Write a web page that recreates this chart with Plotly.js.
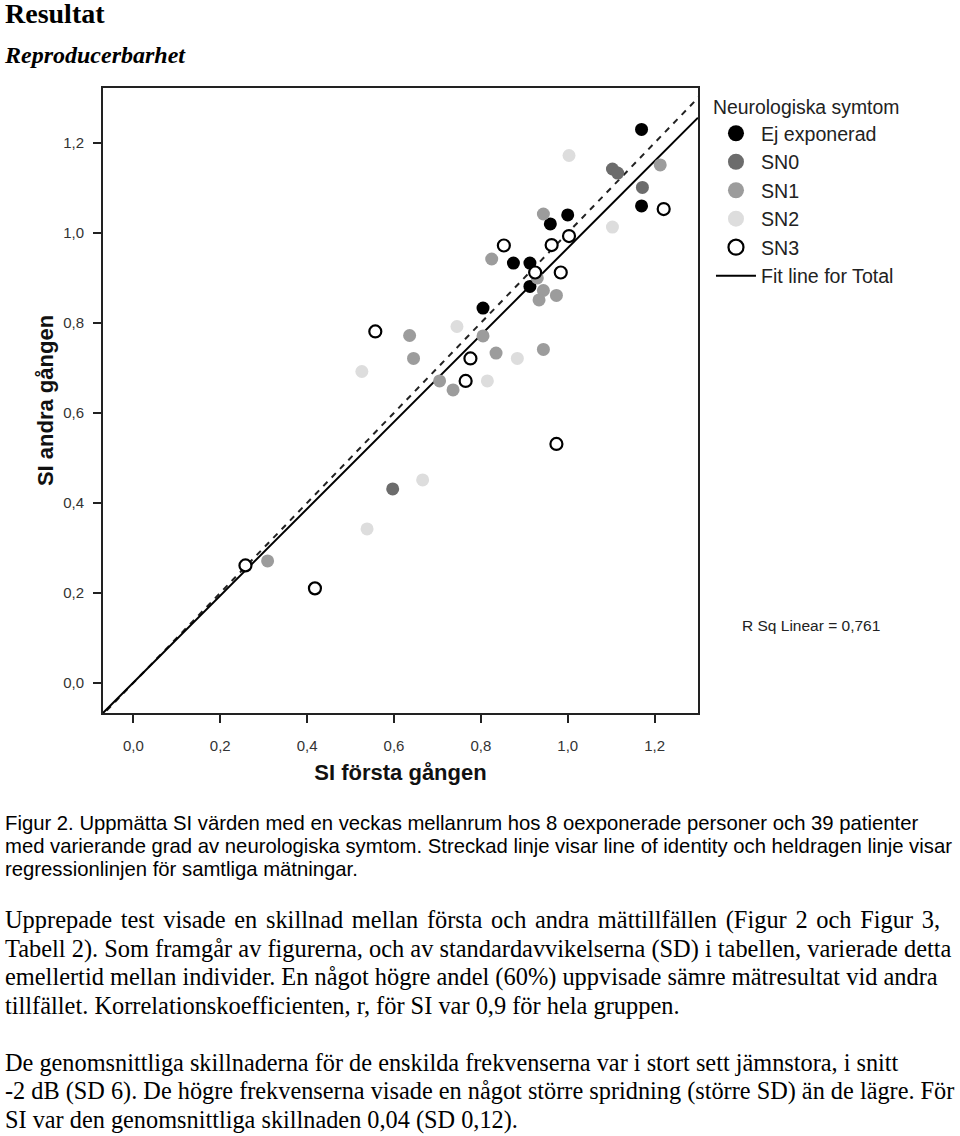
<!DOCTYPE html>
<html>
<head>
<meta charset="utf-8">
<script src="https://cdn.plot.ly/plotly-3.0.1.min.js"></script>
<style>
  body { margin: 0; background: #fff; width: 960px; height: 1136px; position: relative; overflow: hidden; }
  .t { position: absolute; left: 5px; white-space: nowrap; color: #000; }
  #h1 { top: -2px; font: bold 28px/32px "Liberation Serif", serif; }
  #h2 { top: 40px; font: bold italic 24px/30px "Liberation Serif", serif; }
  #cap { top: 812px; font: 20.3px/23px "Liberation Sans", Arial, sans-serif; }
  #p1 { top: 906px; font: 24.4px/28.7px "Liberation Serif", serif; }
  #p2 { top: 1049px; font: 24.3px/28.3px "Liberation Serif", serif; }
  .j { display: block; text-align: justify; text-align-last: justify; white-space: normal; }
  #chart { position: absolute; left: 0; top: 0; width: 960px; height: 800px; }
</style>
</head>
<body>
<div id="chart"></div>
<div class="t" id="h1">Resultat</div>
<div class="t" id="h2">Reproducerbarhet</div>
<div class="t" id="cap">Figur 2. Uppmätta SI värden med en veckas mellanrum hos 8 oexponerade personer och 39 patienter<br>med varierande grad av neurologiska symtom. Streckad linje visar line of identity och heldragen linje visar<br>regressionlinjen för samtliga mätningar.</div>
<div class="t" id="p1"><span class="j" style="width:935px">Upprepade test visade en skillnad mellan första och andra mättillfällen (Figur 2 och Figur 3,</span>Tabell 2). Som framgår av figurerna, och av standardavvikelserna (SD) i tabellen, varierade detta<br>emellertid mellan individer. En något högre andel (60%) uppvisade sämre mätresultat vid andra<br>tillfället. Korrelationskoefficienten, r, för SI var 0,9 för hela gruppen.</div>
<div class="t" id="p2">De genomsnittliga skillnaderna för de enskilda frekvenserna var i stort sett jämnstora, i snitt<br>-2 dB (SD 6). De högre frekvenserna visade en något större spridning (större SD) än de lägre. För<br>SI var den genomsnittliga skillnaden 0,04 (SD 0,12).</div>
<script>
// Mätvärden (SI första gången, SI andra gången)
const ejX  = [1.17, 1.17, 1.00, 0.96, 0.875, 0.913, 0.913, 0.805];
const ejY  = [1.23, 1.06, 1.04, 1.02, 0.933, 0.933, 0.881, 0.833];

const sn0X = [1.103, 1.115, 1.172, 0.597];
const sn0Y = [1.142, 1.133, 1.101, 0.431];

const sn1X = [1.213, 0.944, 0.825, 0.944, 0.934, 0.974, 0.93, 0.636, 0.805, 0.645, 0.835, 0.944, 0.705, 0.736, 0.309];
const sn1Y = [1.151, 1.042, 0.942, 0.872, 0.851, 0.861, 0.90, 0.772, 0.771, 0.721, 0.733, 0.741, 0.671, 0.651, 0.271];

const sn2X = [1.003, 1.103, 0.745, 0.884, 0.526, 0.815, 0.666, 0.538];
const sn2Y = [1.172, 1.013, 0.792, 0.721, 0.692, 0.671, 0.451, 0.342];

const sn3X = [1.221, 1.003, 0.963, 0.853, 0.925, 0.984, 0.557, 0.776, 0.765, 0.974, 0.258, 0.418];
const sn3Y = [1.053, 0.993, 0.973, 0.972, 0.912, 0.912, 0.781, 0.721, 0.671, 0.531, 0.261, 0.210];

// Linjer
const identX = [-0.1, 1.4];
const identY = [-0.1, 1.4];
const fitX = [-0.07, 1.30];
const fitY = [-0.067, 1.256];

const xTicks = [0, 0.2, 0.4, 0.6, 0.8, 1.0, 1.2];
const yTicks = [0, 0.2, 0.4, 0.6, 0.8, 1.0, 1.2];

const grupper = [
    { namn: 'Ej exponerad', x: ejX, y: ejY, farg: '#000000', open: false },
    { namn: 'SN0', x: sn0X, y: sn0Y, farg: '#6c6c6c', open: false },
    { namn: 'SN1', x: sn1X, y: sn1Y, farg: '#9c9c9c', open: false },
    { namn: 'SN2', x: sn2X, y: sn2Y, farg: '#dddddd', open: false },
    { namn: 'SN3', x: sn3X, y: sn3Y, farg: '#ffffff', open: true }
];

const traces = [
    {
        x: identX, y: identY, mode: 'lines', type: 'scatter', showlegend: false,
        line: { color: '#222222', width: 2, dash: '6px,6px' }, hoverinfo: 'skip'
    },
    {
        x: fitX, y: fitY, mode: 'lines', type: 'scatter', showlegend: false,
        line: { color: '#000000', width: 2 }, hoverinfo: 'skip'
    }
];

// punkterna i diagrammet
grupper.forEach(g => {
    traces.push({
        x: g.x, y: g.y, name: g.namn, legendgroup: g.namn, showlegend: false,
        mode: 'markers', type: 'scatter',
        marker: {
            size: g.open ? 12 : 13,
            color: g.farg,
            line: { width: g.open ? 2.2 : 0, color: '#000000' }
        }
    });
});

// större symboler i förklaringen
grupper.forEach(g => {
    traces.push({
        x: [null], y: [null], name: g.namn, legendgroup: g.namn,
        mode: 'markers', type: 'scatter',
        marker: {
            size: g.open ? 15 : 16,
            color: g.farg,
            line: { width: g.open ? 2.2 : 0, color: '#000000' }
        }
    });
});

traces.push({
    x: [null], y: [null], mode: 'lines', type: 'scatter', name: 'Fit line for Total',
    line: { color: '#000000', width: 2 }
});

const axel = {
    showline: true, mirror: true, linecolor: '#222222', linewidth: 2,
    showgrid: false, zeroline: false,
    ticks: 'outside', ticklen: 8, tickwidth: 2, tickcolor: '#222222',
    tickformat: '.1f',
    tickfont: { family: 'Liberation Sans, Arial, sans-serif', size: 15, color: '#333333' }
};

const layout = {
    width: 960, height: 800,
    margin: { l: 103, r: 262, t: 88, b: 87 },
    separators: ', ',
    plot_bgcolor: '#ffffff',
    paper_bgcolor: 'rgba(0,0,0,0)',
    xaxis: Object.assign({}, axel, {
        range: [-0.07, 1.30], tickvals: xTicks, ticklabelstandoff: 10,
        title: { text: '<b>SI första gången</b>', standoff: 12,
                 font: { family: 'Liberation Sans, Arial, sans-serif', size: 22, color: '#111111' } }
    }),
    yaxis: Object.assign({}, axel, {
        range: [-0.067, 1.322], tickvals: yTicks, ticklabelstandoff: 6,
        title: { text: '<b>SI andra gången</b>', standoff: 3,
                 font: { family: 'Liberation Sans, Arial, sans-serif', size: 22, color: '#111111' } }
    }),
    showlegend: true,
    legend: {
        xref: 'container', yref: 'container',
        x: 0.7406, y: 0.889, xanchor: 'left', yanchor: 'top',
        title: { text: 'Neurologiska symtom', font: { family: 'Liberation Sans, Arial, sans-serif', size: 19.4, color: '#222222' } },
        font: { family: 'Liberation Sans, Arial, sans-serif', size: 19.6, color: '#222222' },
        itemwidth: 40, tracegroupgap: 0, bgcolor: 'rgba(0,0,0,0)'
    },
    annotations: [{
        xref: 'paper', yref: 'paper', x: 1.07, y: 0.14, xanchor: 'left', yanchor: 'middle',
        text: 'R Sq Linear = 0,761', showarrow: false,
        font: { family: 'Liberation Sans, Arial, sans-serif', size: 15.5, color: '#222222' }
    }]
};

Plotly.newPlot('chart', traces, layout, { staticPlot: true });
</script>
</body>
</html>
